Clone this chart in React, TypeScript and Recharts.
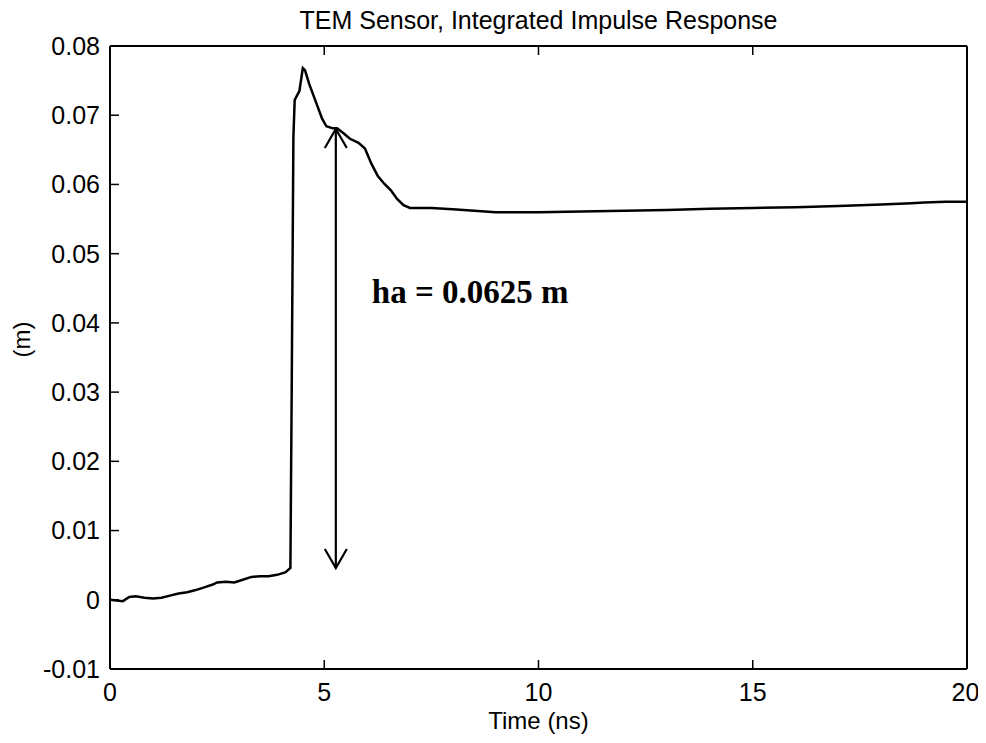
import {
  LineChart,
  Line,
  XAxis,
  YAxis,
  ReferenceLine,
  ReferenceDot,
} from "recharts";

const timeNs = [
  0, 0.15, 0.3, 0.45, 0.6, 0.8, 1.0, 1.2, 1.4, 1.6, 1.8, 2.0, 2.2, 2.4, 2.5, 2.7,
  2.9, 3.1, 3.3, 3.5, 3.7, 3.9, 4.1, 4.21, 4.24, 4.28, 4.31, 4.36, 4.42, 4.5,
  4.55, 4.65, 4.8, 4.95, 5.05, 5.2, 5.3, 5.45, 5.6, 5.8, 5.95, 6.1, 6.25, 6.4,
  6.55, 6.7, 6.85, 7.0, 7.5, 8.0, 8.5, 9.0, 9.5, 10, 11, 12, 13, 14, 15, 16, 17,
  18, 18.7, 19, 19.5, 20,
];

const response = [
  0.0, -0.0001, -0.0002, 0.0004, 0.0005, 0.0003, 0.0002, 0.0003, 0.0006, 0.0009,
  0.0011, 0.0014, 0.0018, 0.0022, 0.0025, 0.0026, 0.0025, 0.0029, 0.0033, 0.0034,
  0.0034, 0.0036, 0.004, 0.0046, 0.03, 0.0668, 0.0722, 0.0728, 0.0735, 0.0768,
  0.0765, 0.0745, 0.072, 0.0695, 0.0684, 0.0681, 0.0681, 0.0674, 0.0666, 0.066,
  0.0652, 0.063, 0.0612, 0.0601, 0.0592, 0.0579, 0.057, 0.0566, 0.0566, 0.0564,
  0.0562, 0.056, 0.056, 0.056, 0.0561, 0.0562, 0.0563, 0.0565, 0.0566, 0.0567,
  0.0569, 0.0571, 0.0573, 0.0574, 0.0575, 0.0575,
];

const xTicks = [0, 5, 10, 15, 20];
const yTicks = [-0.01, 0, 0.01, 0.02, 0.03, 0.04, 0.05, 0.06, 0.07, 0.08];

// arrow annotation: x position, tip values, label
const arrowTime = 5.27;
const arrowTop = 0.068;
const arrowBottom = 0.0046;
const noteTime = 6.11;
const noteValue = 0.0429;
const noteText = "ha = 0.0625 m";

const data = timeNs.map((t, i) => ({ t, v: response[i] }));

const font = "'Liberation Sans', Arial, Helvetica, sans-serif";
const tickStyle = { fill: "#000", fontSize: 25, fontFamily: font };
const axisLine = { stroke: "#000", strokeWidth: 2 };
const tickLine = { stroke: "#000", strokeWidth: 1.5 };

function DoubleArrow(props: any) {
  const { x1, y1, x2, y2 } = props;
  const top = Math.min(y1, y2);
  const bottom = Math.max(y1, y2);
  const ax = 11;
  const ay = 19;
  return (
    <g stroke="#000" strokeWidth={2.2} fill="none">
      <line x1={x1} y1={top} x2={x2} y2={bottom} />
      <polyline points={`${x1 - ax},${top + ay} ${x1},${top} ${x1 + ax},${top + ay}`} />
      <polyline
        points={`${x1 - ax},${bottom - ay} ${x1},${bottom} ${x1 + ax},${bottom - ay}`}
      />
    </g>
  );
}

function Note(props: any) {
  return (
    <text
      x={props.cx}
      y={props.cy}
      fontFamily="'Liberation Serif', 'Times New Roman', serif"
      fontWeight="bold"
      fontSize={33}
      fill="#000"
    >
      {noteText}
    </text>
  );
}

const captionStyle = {
  position: "absolute" as const,
  left: 102,
  width: 857,
  textAlign: "center" as const,
  fontFamily: font,
  color: "#000",
  whiteSpace: "nowrap" as const,
};

export default function App() {
  return (
    <div style={{ position: "relative", width: 970, height: 727 }}>
      <div style={{ ...captionStyle, top: -2, fontSize: 25 }}>
        TEM Sensor, Integrated Impulse Response
      </div>
      <LineChart
        width={970}
        height={727}
        data={data}
        margin={{ top: 37, right: 10, bottom: 0, left: 0 }}
      >
        <XAxis
          xAxisId="bottom"
          dataKey="t"
          type="number"
          domain={[0, 20]}
          ticks={xTicks}
          height={66}
          tickSize={-9}
          tickMargin={23}
          tick={tickStyle}
          axisLine={axisLine}
          tickLine={tickLine}
        />
        <XAxis
          xAxisId="top"
          orientation="top"
          dataKey="t"
          type="number"
          domain={[0, 20]}
          ticks={xTicks}
          height={1}
          tickSize={-9}
          tickFormatter={() => ""}
          axisLine={axisLine}
          tickLine={tickLine}
        />
        <YAxis
          yAxisId="left"
          type="number"
          domain={[-0.01, 0.08]}
          ticks={yTicks}
          width={102}
          tickSize={-9}
          tickMargin={19}
          tick={tickStyle}
          axisLine={axisLine}
          tickLine={tickLine}
          tickFormatter={(v: number) => String(Number(v.toFixed(2)))}
          label={{
            value: "(m)",
            angle: -90,
            position: "insideLeft",
            offset: 13,
            fill: "#000",
            fontSize: 24,
            fontFamily: font,
          }}
        />
        <YAxis
          yAxisId="right"
          orientation="right"
          type="number"
          domain={[-0.01, 0.08]}
          ticks={yTicks}
          width={1}
          tickSize={-9}
          tickFormatter={() => ""}
          axisLine={axisLine}
          tickLine={tickLine}
        />
        <Line
          xAxisId="bottom"
          yAxisId="left"
          dataKey="v"
          type="linear"
          stroke="#000"
          strokeWidth={2.5}
          dot={false}
          isAnimationActive={false}
        />
        <ReferenceLine
          xAxisId="bottom"
          yAxisId="left"
          segment={[
            { x: arrowTime, y: arrowTop },
            { x: arrowTime, y: arrowBottom },
          ]}
          shape={DoubleArrow}
        />
        <ReferenceDot
          xAxisId="bottom"
          yAxisId="left"
          x={noteTime}
          y={noteValue}
          r={0}
          shape={Note}
        />
      </LineChart>
      <div style={{ ...captionStyle, top: 699, fontSize: 24 }}>Time (ns)</div>
    </div>
  );
}
